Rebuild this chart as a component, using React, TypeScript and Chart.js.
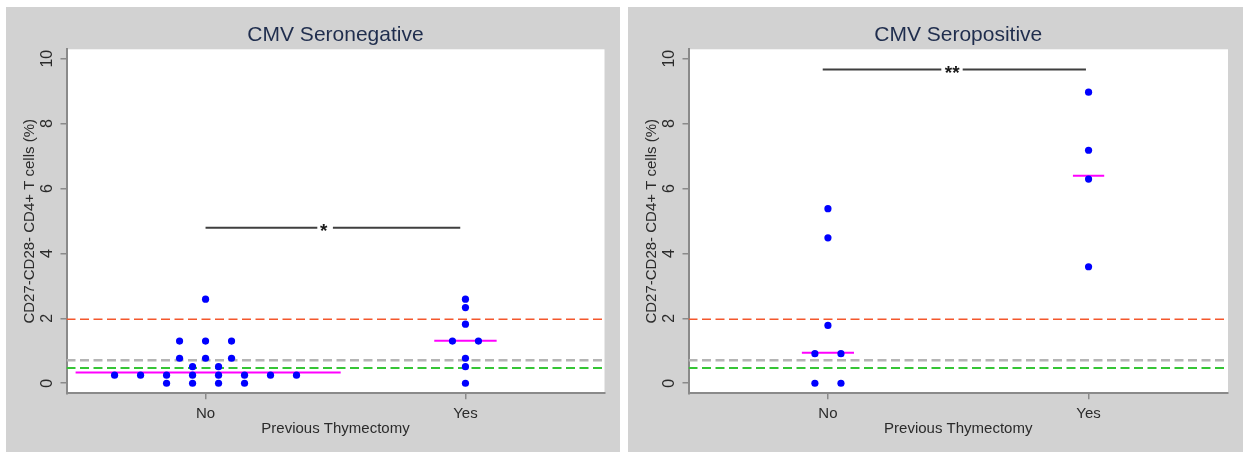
import React, { useEffect, useRef } from 'react';
import { Chart, registerables } from 'chart.js';

Chart.register(...registerables);

const FONT = "'Liberation Sans', Arial, sans-serif";
const GRAY_BG = '#d2d2d2';
const AXIS_COLOR = '#8a8a8a';
const TEXT_COLOR = '#2b2b2b';
const TITLE_COLOR = '#1f2d4d';

// ---- shared axis definitions ----
const categories = ['No', 'Yes'];
const categoryPositions = [1, 2];
const yTickValues = [0, 2, 4, 6, 8, 10];
const xRange = [0.465, 2.535];
const yRange = [-0.31, 10.29];
const yAxisTitle = 'CD27-CD28- CD4+ T cells (%)';
const xAxisTitle = 'Previous Thymectomy';

// reference (dashed) levels
const refLevels = [1.97, 0.71, 0.47];

// ---- CMV Seronegative ----
const negTitle = 'CMV Seronegative';
const negNoX = [0.65, 0.75, 0.85, 0.85, 0.9, 0.9, 0.95, 0.95, 0.95, 1.0, 1.0, 1.0, 1.05, 1.05, 1.05, 1.1, 1.1, 1.15, 1.15, 1.25, 1.35];
const negNoY = [0.25, 0.25, 0.25, 0, 1.3, 0.77, 0.51, 0.25, 0, 2.59, 1.3, 0.77, 0.51, 0.25, 0, 1.3, 0.77, 0.25, 0, 0.25, 0.25];
const negYesX = [2, 2, 2, 1.95, 2.05, 2, 2, 2];
const negYesY = [2.59, 2.33, 1.82, 1.3, 1.3, 0.77, 0.51, 0];
const negMedianNoX = [0.5, 1.52];
const negMedianNoY = 0.33;
const negMedianYesX = [1.88, 2.12];
const negMedianYesY = 1.31;
const negSigY = 4.79;
const negSigSegA = [1.0, 1.43];
const negSigSegB = [1.49, 1.98];
const negSigStarX = 1.455;
const negSigText = '*';

// ---- CMV Seropositive ----
const posTitle = 'CMV Seropositive';
const posNoX = [1, 1, 1, 0.95, 1.05, 0.95, 1.05];
const posNoY = [5.38, 4.48, 1.78, 0.91, 0.91, 0, 0];
const posYesX = [2, 2, 2, 2];
const posYesY = [8.97, 7.18, 6.29, 3.59];
const posMedianNoX = [0.9, 1.1];
const posMedianNoY = 0.94;
const posMedianYesX = [1.94, 2.06];
const posMedianYesY = 6.39;
const posSigY = 9.67;
const posSigSegA = [0.98, 1.435];
const posSigSegB = [1.517, 1.99];
const posSigStarX = 1.477;
const posSigText = '**';

type PanelData = {
  title: string;
  noX: number[]; noY: number[];
  yesX: number[]; yesY: number[];
  medNoX: number[]; medNoY: number;
  medYesX: number[]; medYesY: number;
  sigY: number; segA: number[]; segB: number[]; starX: number; starText: string;
  padRight: number;
};

const refStyles = [
  { color: '#f4572c', width: 1.6 },
  { color: '#b4b4b4', width: 2.6 },
  { color: '#35c535', width: 2 },
];

const panelPlugin = {
  id: 'panelDeco',
  beforeDraw(chart: any) {
    const { ctx, chartArea: a, width, height } = chart;
    ctx.save();
    ctx.fillStyle = GRAY_BG;
    ctx.fillRect(0, 0, width, height);
    ctx.fillStyle = '#ffffff';
    ctx.fillRect(a.left, a.top, a.right - a.left, a.bottom - a.top);
    ctx.restore();
  },
  afterDatasetsDraw(chart: any, _args: any, opts: any) {
    const { ctx, scales } = chart;
    const x = scales.x;
    const y = scales.y;
    ctx.save();
    ctx.font = `bold 19px ${FONT}`;
    ctx.fillStyle = '#1a1a1a';
    ctx.textAlign = 'center';
    ctx.textBaseline = 'alphabetic';
    ctx.fillText(opts.text, x.getPixelForValue(opts.x), y.getPixelForValue(opts.y) + 9.5);
    ctx.restore();
  },
};

function pts(xs: number[], ys: number[]) {
  return xs.map((x, i) => ({ x, y: ys[i] }));
}

function seg(xs: number[], yv: number) {
  return xs.map((x) => ({ x, y: yv }));
}

function buildConfig(p: PanelData): any {
  const lineBase = { showLine: true, pointRadius: 0, pointHoverRadius: 0, fill: false };
  const datasets: any[] = [
    {
      data: pts(p.noX, p.noY),
      backgroundColor: '#0000ff', borderWidth: 0, pointRadius: 3.6, order: 0,
    },
    {
      data: pts(p.yesX, p.yesY),
      backgroundColor: '#0000ff', borderWidth: 0, pointRadius: 3.6, order: 0,
    },
    { ...lineBase, data: seg(p.medNoX, p.medNoY), borderColor: '#ff00ff', borderWidth: 2, order: 1 },
    { ...lineBase, data: seg(p.medYesX, p.medYesY), borderColor: '#ff00ff', borderWidth: 2, order: 1 },
    { ...lineBase, data: seg(p.segA, p.sigY), borderColor: '#3f3f3f', borderWidth: 2, order: 2 },
    { ...lineBase, data: seg(p.segB, p.sigY), borderColor: '#3f3f3f', borderWidth: 2, order: 2 },
    ...refLevels.map((lv, i) => ({
      ...lineBase,
      data: seg(xRange, lv),
      borderColor: refStyles[i].color,
      borderWidth: refStyles[i].width,
      borderDash: [9, 4.5],
      order: 3,
    })),
  ];
  const tickFont = { family: FONT, size: 15 };
  const yTickFont = { family: FONT, size: 16 };
  return {
    type: 'scatter',
    data: { datasets },
    plugins: [panelPlugin],
    options: {
      animation: false,
      responsive: false,
      devicePixelRatio: 1,
      events: [],
      layout: { padding: { left: 0, top: 0, right: p.padRight, bottom: 0 } },
      plugins: {
        legend: { display: false },
        tooltip: { enabled: false },
        title: {
          display: true,
          text: p.title,
          fullSize: false,
          color: TITLE_COLOR,
          font: { family: FONT, size: 21, weight: 'normal' },
          padding: { top: 15.4, bottom: 1.7 },
        },
        panelDeco: { text: p.starText, x: p.starX, y: p.sigY },
      },
      scales: {
        x: {
          type: 'linear',
          min: xRange[0],
          max: xRange[1],
          afterBuildTicks: (s: any) => { s.ticks = categoryPositions.map((v) => ({ value: v })); },
          afterFit: (s: any) => { s.height = 58.7; },
          ticks: {
            autoSkip: false, maxRotation: 0, minRotation: 0, padding: 6,
            color: TEXT_COLOR, font: tickFont,
            callback: (_v: any, i: number) => categories[i],
          },
          grid: { display: true, drawOnChartArea: false, drawTicks: true, tickLength: 6, color: AXIS_COLOR, lineWidth: 1.5 },
          border: { display: true, color: AXIS_COLOR, width: 2 },
          title: { display: true, text: xAxisTitle, color: TEXT_COLOR, font: tickFont, padding: { top: 0, bottom: 14.5 } },
        },
        y: {
          type: 'linear',
          min: yRange[0],
          max: yRange[1],
          afterBuildTicks: (s: any) => { s.ticks = yTickValues.map((v) => ({ value: v })); },
          afterFit: (s: any) => { s.width = 60.5; },
          ticks: {
            minRotation: 90, maxRotation: 90, crossAlign: 'center', padding: 4,
            color: TEXT_COLOR, font: yTickFont,
            callback: (v: any) => String(v),
          },
          grid: { display: true, drawOnChartArea: false, drawTicks: true, tickLength: 6, color: AXIS_COLOR, lineWidth: 1.5 },
          border: { display: true, color: AXIS_COLOR, width: 2 },
          title: { display: true, text: yAxisTitle, color: TEXT_COLOR, font: tickFont, padding: { top: 15, bottom: 0 } },
        },
      },
    },
  };
}

function Panel({ data, left, top, width, height }: { data: PanelData; left: number; top: number; width: number; height: number }) {
  const ref = useRef<HTMLCanvasElement>(null);
  useEffect(() => {
    if (!ref.current) return;
    const chart = new Chart(ref.current, buildConfig(data));
    return () => chart.destroy();
  }, [data]);
  return (
    <canvas
      ref={ref}
      width={width}
      height={height}
      style={{ position: 'absolute', left, top, width, height, display: 'block' }}
    />
  );
}

const negPanel: PanelData = {
  title: negTitle,
  noX: negNoX, noY: negNoY, yesX: negYesX, yesY: negYesY,
  medNoX: negMedianNoX, medNoY: negMedianNoY, medYesX: negMedianYesX, medYesY: negMedianYesY,
  sigY: negSigY, segA: negSigSegA, segB: negSigSegB, starX: negSigStarX, starText: negSigText,
  padRight: 15.5,
};

const posPanel: PanelData = {
  title: posTitle,
  noX: posNoX, noY: posNoY, yesX: posYesX, yesY: posYesY,
  medNoX: posMedianNoX, medNoY: posMedianNoY, medYesX: posMedianYesX, medYesY: posMedianYesY,
  sigY: posSigY, segA: posSigSegA, segB: posSigSegB, starX: posSigStarX, starText: posSigText,
  padRight: 15,
};

export default function App() {
  return (
    <div style={{ position: 'absolute', left: 0, top: 0, width: 1243, height: 452, background: '#ffffff', overflow: 'hidden' }}>
      <Panel data={negPanel} left={6} top={7} width={614} height={445} />
      <Panel data={posPanel} left={628} top={7} width={615} height={445} />
    </div>
  );
}
